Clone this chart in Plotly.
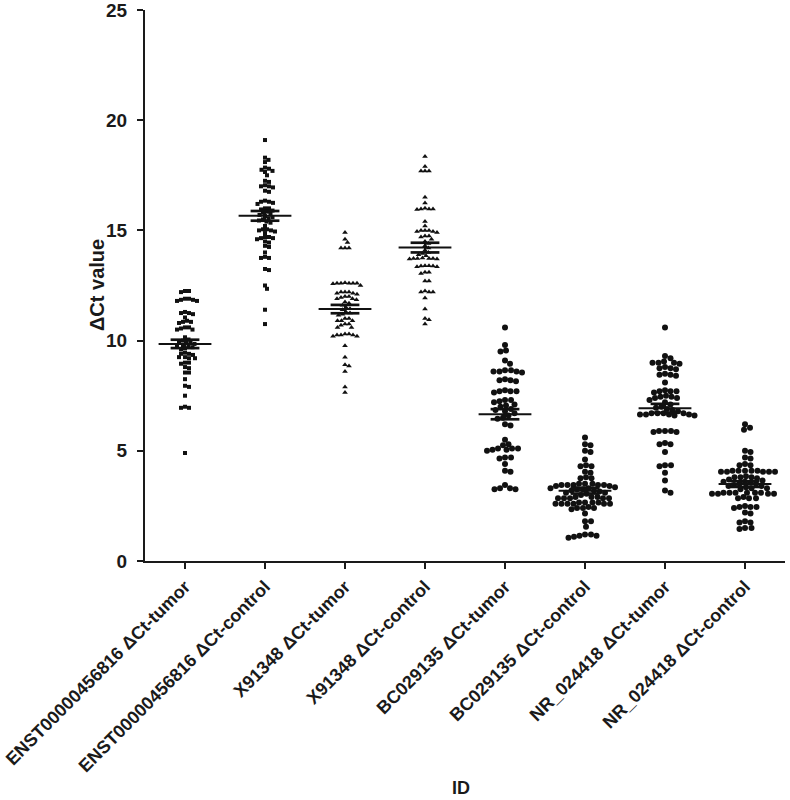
import plotly.graph_objects as go
import numpy as np

categories = ["ENST00000456816 ΔCt-tumor", "ENST00000456816 ΔCt-control",
              "X91348 ΔCt-tumor", "X91348 ΔCt-control",
              "BC029135 ΔCt-tumor", "BC029135 ΔCt-control",
              "NR_024418 ΔCt-tumor", "NR_024418 ΔCt-control"]

enst_tumor = [12.25, 12.2, 12.25, 11.9, 11.85, 11.8, 11.85, 11.9, 11.8,
              11.25, 11.25, 11.3, 11.2, 11.05, 10.85, 10.9, 10.8, 10.85,
              10.6, 10.55, 10.5, 10.6, 10.5, 10.15,
              10.05, 10.0, 9.95, 9.9, 9.85, 9.8, 9.75, 9.7, 9.65, 9.6, 9.9, 9.8,
              9.45, 9.4, 9.4, 9.35, 9.25, 9.25, 9.2, 9.2, 9.0, 9.0, 8.95,
              8.8, 8.75, 8.55, 8.55, 8.25, 7.95, 7.9, 7.5, 6.95, 6.95, 7.0, 4.9]
enst_control = [19.1, 18.3, 18.2, 18.1, 17.85, 17.8, 17.75, 17.7, 17.65, 17.5,
                17.2, 17.25, 17.0, 17.05, 16.95, 17.0, 16.8, 16.75,
                16.35, 16.3, 16.25, 16.3, 16.2, 16.0, 15.95, 15.9, 16.0,
                15.85, 15.8, 15.75, 15.7, 15.65, 15.6, 15.55, 15.5, 15.45, 15.4, 15.35,
                15.2, 15.0, 15.05, 14.95, 15.0, 15.05, 14.88,
                14.7, 14.65, 14.7, 14.65, 14.6, 14.45, 14.5, 14.25, 14.3, 14.0,
                13.8, 13.75, 13.75, 13.2, 13.25, 12.5, 12.35, 11.4, 10.75]
x913_tumor = [14.9, 14.6, 14.45, 14.2, 14.2, 14.2,
              12.6, 12.6, 12.6, 12.58, 12.6, 12.62, 12.6, 12.5,
              12.2, 12.2, 12.15, 12.2, 12.1, 12.15,
              12.0, 11.95, 11.9, 11.85, 11.9, 12.0,
              11.75, 11.7, 11.6, 11.5, 11.45, 11.4, 11.3, 11.25, 11.2, 11.15,
              11.0, 11.0, 10.9, 10.9, 10.9, 10.75, 10.75, 10.7, 10.6, 10.6,
              10.25, 10.25, 10.3, 10.2, 10.25, 10.2, 10.3,
              9.77, 9.25, 8.85, 8.9, 8.6, 7.9, 7.64]
x913_control = [18.35, 17.9, 17.7, 17.7, 17.7, 16.5, 16.24,
                15.97, 15.95, 15.97, 15.97, 16.0, 15.4, 15.2,
                15.0, 15.0, 14.95, 14.9, 15.0, 14.95, 14.75, 14.75, 14.7,
                14.6, 14.5, 14.4, 14.3, 14.2, 14.1, 14.0, 13.95, 13.9, 13.85,
                13.72, 13.72, 13.7, 13.75, 13.72, 13.7, 13.72,
                13.4, 13.38, 13.35, 13.4, 13.38, 13.35, 13.1, 13.1, 13.05,
                12.7, 12.7, 12.2, 12.2, 12.2, 12.25, 11.93, 11.43, 11.0, 10.95, 10.75]
bc_tumor = [10.6, 9.8, 9.55, 9.5, 9.1, 8.95,
            8.65, 8.6, 8.6, 8.65, 8.6, 8.55, 8.2, 8.2, 8.25, 8.15,
            7.7, 7.75, 7.7, 7.65, 7.7, 7.3, 7.25, 7.2, 7.3, 7.1, 7.05, 7.0,
            6.9, 6.85, 6.8, 6.7, 6.6, 6.5, 6.45, 6.2, 6.15, 5.5, 5.25, 5.3,
            5.1, 5.05, 5.1, 5.05, 5.1, 5.0, 4.7, 4.65, 4.7, 4.4, 4.1, 4.05,
            3.45, 3.3, 3.25, 3.3, 3.25]
bc_control = [5.6, 5.3, 5.25, 5.0, 4.95, 4.6, 4.35, 4.3, 4.3, 4.05, 4.0,
              3.8, 3.75, 3.75,
              3.5, 3.45, 3.45, 3.45, 3.5, 3.45, 3.4, 3.45, 3.5, 3.4,
              3.35, 3.3, 3.3, 3.25, 3.25, 3.2, 3.2, 3.15, 3.1, 3.1, 3.05, 3.0,
              2.9, 2.85, 2.85, 2.9, 2.85, 2.85, 2.9, 2.85,
              2.65, 2.6, 2.65, 2.6, 2.65, 2.6, 2.6, 2.65, 2.6, 2.6,
              2.4, 2.4, 2.35, 2.4, 2.45, 2.15, 1.8, 1.8, 1.55,
              1.2, 1.15, 1.2, 1.1, 1.15, 1.05]
nr_tumor = [10.6, 9.3, 9.2, 9.0, 9.0, 8.95, 9.0, 9.05, 8.75, 8.8, 8.75, 8.7,
            8.45, 8.4, 8.45, 8.5, 8.1, 7.75, 7.7, 7.7, 7.65, 7.7,
            7.45, 7.4, 7.45, 7.5, 7.4,
            7.3, 7.2, 7.1, 7.0, 6.95, 6.9, 6.85, 6.8,
            6.7, 6.65, 6.7, 6.65, 6.7, 6.65, 6.6, 6.7, 6.65, 6.6,
            5.9, 5.85, 5.9, 5.85, 5.9, 5.3, 5.3, 5.35, 4.95,
            4.35, 4.3, 4.35, 4.0, 3.65, 3.2, 3.1]
nr_control = [6.2, 6.05, 5.95, 4.95, 5.0, 4.65, 4.7, 4.35, 4.4, 4.35,
              4.1, 4.05, 4.1, 4.05, 4.1, 4.05, 4.1, 4.05, 4.1, 4.05,
              3.8, 3.8, 3.75, 3.8, 3.85,
              3.7, 3.65, 3.6, 3.55, 3.5, 3.45, 3.4, 3.35, 3.3, 3.25, 3.6, 3.4, 3.5, 3.3,
              3.1, 3.05, 3.1, 3.05, 3.1, 3.1, 3.05, 3.1, 3.05, 3.1,
              2.85, 2.9, 2.85, 2.85, 2.45, 2.45, 2.4, 2.5, 2.45,
              2.2, 2.15, 1.8, 1.75, 1.75, 1.5, 1.5, 1.45]

groups = [enst_tumor, enst_control, x913_tumor, x913_control,
          bc_tumor, bc_control, nr_tumor, nr_control]
means = [9.85, 15.66, 11.43, 14.22, 6.66, 3.19, 6.93, 3.49]
sems = [0.19, 0.22, 0.19, 0.22, 0.23, 0.13, 0.2, 0.13]
symbols = ["square", "square", "triangle-up", "triangle-up",
           "circle", "circle", "circle", "circle"]
msizes = [4, 4, 5, 5, 6, 6, 6, 6]
spacing = [3.8, 3.8, 4.0, 4.0, 5.6, 5.6, 5.6, 5.6]

# plot geometry (pixels per data unit), used for swarm layout only
PX_X = 80.0
PX_Y = 551.0 / 25.0


def swarm(vals, d):
    order = np.argsort(-np.array(vals), kind="stable")
    placed = []
    offs = [0.0] * len(vals)
    for idx in order:
        y = vals[idx] * PX_Y
        k = 0
        while True:
            cand = [0.0] if k == 0 else [k * 0.5, -k * 0.5]
            ok_c = None
            for c in cand:
                ok = True
                for (px, py) in placed:
                    if (px - c) ** 2 + (py - y) ** 2 < d * d:
                        ok = False
                        break
                if ok:
                    ok_c = c
                    break
            if ok_c is not None:
                placed.append((ok_c, y))
                offs[idx] = ok_c / PX_X
                break
            k += 1
    return offs


fig = go.Figure()
for i, vals in enumerate(groups):
    offs = swarm(vals, spacing[i])
    fig.add_trace(go.Scatter(
        x=[i + o for o in offs], y=vals, mode="markers",
        marker=dict(symbol=symbols[i], size=msizes[i], color="#111111",
                    line=dict(width=0)),
        showlegend=False, hoverinfo="y"))

mx, my, cx, cy, vx, vy = [], [], [], [], [], []
for i in range(len(groups)):
    m, s = means[i], sems[i]
    mx += [i - 0.33, i + 0.33, None]
    my += [m, m, None]
    cx += [i - 0.18, i + 0.18, None, i - 0.18, i + 0.18, None]
    cy += [m + s, m + s, None, m - s, m - s, None]
    vx += [i, i, None]
    vy += [m - s, m + s, None]

fig.add_trace(go.Scatter(x=mx, y=my, mode="lines", line=dict(color="#111111", width=2),
                         showlegend=False, hoverinfo="skip"))
fig.add_trace(go.Scatter(x=cx, y=cy, mode="lines", line=dict(color="#111111", width=2.7),
                         showlegend=False, hoverinfo="skip"))
fig.add_trace(go.Scatter(x=vx, y=vy, mode="lines", line=dict(color="#111111", width=2),
                         showlegend=False, hoverinfo="skip"))

FAM = "Liberation Sans, Arial, sans-serif"
INK = "#1a1a1a"
FW, FH = 790, 800
L, R, T, B = 145, 5, 10, 239
fig.update_layout(
    width=FW, height=FH,
    margin=dict(l=L, r=R, t=T, b=B, autoexpand=False),
    paper_bgcolor="white", plot_bgcolor="white",
    font=dict(family=FAM, color=INK),
    xaxis=dict(range=[-0.5, 7.5], tickmode="array", tickvals=list(range(8)),
               ticktext=categories, tickangle=-45, automargin=False,
               ticklabeloverflow="allow",
               tickfont=dict(size=18, weight="bold", family=FAM, color=INK),
               showline=True, linecolor=INK, linewidth=2,
               ticks="outside", ticklen=6, tickwidth=2, tickcolor=INK,
               showgrid=False, zeroline=False),
    yaxis=dict(range=[0, 25], tickmode="array", tickvals=[0, 5, 10, 15, 20, 25],
               automargin=False, ticklabeloverflow="allow", ticklabelstandoff=6,
               tickfont=dict(size=19, weight="bold", family=FAM, color=INK),
               showline=True, linecolor=INK, linewidth=2,
               ticks="outside", ticklen=6, tickwidth=2, tickcolor=INK,
               showgrid=False, zeroline=False),
)

W, H = FW - L - R, FH - T - B
def px2paper(x, y):
    return (x - L) / W, (FH - B - y) / H

ax, ay = px2paper(97, 285)
fig.add_annotation(text="ΔCt value", x=ax, y=ay, xref="paper", yref="paper",
                   xanchor="center", yanchor="middle", showarrow=False, textangle=-90,
                   font=dict(size=20, weight="bold", family=FAM, color=INK))
ax, ay = px2paper(461, 788)
fig.add_annotation(text="ID", x=ax, y=ay, xref="paper", yref="paper",
                   xanchor="center", yanchor="middle", showarrow=False,
                   font=dict(size=18, weight="bold", family=FAM, color=INK))

fig.write_html("out.html", config={"displayModeBar": False},
               post_script="document.body.style.margin='0';")
